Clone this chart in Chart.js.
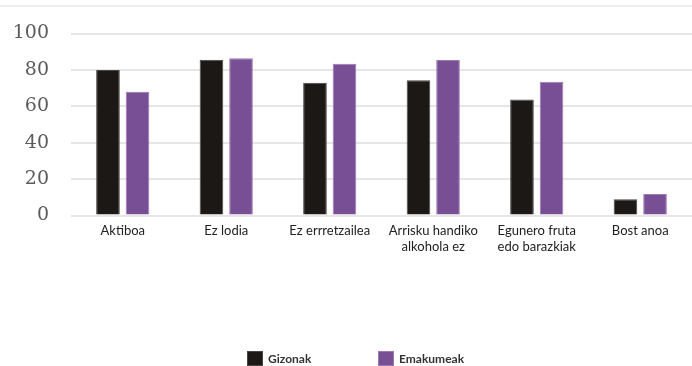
<!DOCTYPE html>
<html>
<head>
<meta charset="utf-8">
<script src="https://cdn.jsdelivr.net/npm/chart.js@4/dist/chart.umd.min.js"></script>
<style>
    html, body { margin: 0; padding: 0; background: #fff; }
    #wrap { position: relative; width: 692px; height: 366px; overflow: hidden; }
    #topline { position: absolute; left: 0; top: 5px; width: 692px; height: 0; border-top: 2px solid #eeeeee; }
    #chart { position: absolute; left: 0; top: 0; }
    #legend { position: absolute; left: 0; top: 351px; width: 692px; height: 15px; font: bold 12px Lato, sans-serif; color: #333; }
    #legend .item { position: absolute; top: 0; white-space: nowrap; line-height: 15px; }
    #legend .box { display: inline-block; width: 16px; height: 15px; vertical-align: top; margin-right: 5px; box-sizing: border-box; }
</style>
</head>
<body>
<div id="wrap">
    <div id="topline"></div>
    <canvas id="chart" width="692" height="366"></canvas>
    <div id="legend"></div>
</div>
<script>
    // Categories (two-line labels where the text wraps)
    const categories = [
        'Aktiboa',
        'Ez lodia',
        'Ez errretzailea',
        ['Arrisku handiko', 'alkohola ez'],
        ['Egunero fruta', 'edo barazkiak'],
        'Bost anoa'
    ];

    // Percentages per group
    const gizonak = [80, 85.6, 73, 74.3, 63.8, 8.9];
    const emakumeak = [68, 86.4, 83.4, 85.4, 73.5, 11.8];

    const yTicks = [0, 20, 40, 60, 80, 100];

    const seriesNames = ['Gizonak', 'Emakumeak'];
    const seriesColors = ['#1c1815', '#784f95'];
    const seriesBorders = ['#4a4542', '#9b7ab2'];

    // Legend item left offsets (px)
    const legendLeft = [247, 378];

    const chart = new Chart(document.getElementById('chart'), {
        type: 'bar',
        data: {
            labels: categories,
            datasets: [
                {
                    label: seriesNames[0],
                    data: gizonak,
                    backgroundColor: seriesColors[0],
                    borderColor: seriesBorders[0],
                    borderWidth: 1
                },
                {
                    label: seriesNames[1],
                    data: emakumeak,
                    backgroundColor: seriesColors[1],
                    borderColor: seriesBorders[1],
                    borderWidth: 1
                }
            ]
        },
        options: {
            responsive: false,
            animation: false,
            events: [],
            layout: {
                padding: { top: 33.5, right: 0, bottom: 0, left: 0 }
            },
            datasets: {
                bar: {
                    categoryPercentage: 0.571,
                    barPercentage: 0.8
                }
            },
            scales: {
                x: {
                    border: { display: false },
                    grid: { display: false, drawTicks: false },
                    ticks: {
                        padding: 7,
                        color: '#222',
                        maxRotation: 0,
                        autoSkip: false,
                        font: { family: 'Lato', size: 13, lineHeight: 1.23 }
                    },
                    afterFit: function(scale) {
                        scale.height = 150.5;
                    }
                },
                y: {
                    min: 0,
                    max: 100,
                    border: { display: false },
                    grid: { color: '#e6e6e6', lineWidth: 2, drawTicks: false },
                    afterBuildTicks: function(scale) {
                        scale.ticks = yTicks.map(v => ({ value: v }));
                    },
                    ticks: {
                        padding: 22,
                        color: '#5b5b5b',
                        font: { family: 'DejaVu Serif', size: 19 }
                    },
                    afterFit: function(scale) {
                        scale.width = 71;
                    }
                }
            },
            plugins: {
                legend: { display: false },
                tooltip: { enabled: false }
            }
        }
    });

    // Legend built from the chart's datasets
    const legendEl = document.getElementById('legend');
    chart.data.datasets.forEach(function(ds, i) {
        const item = document.createElement('div');
        item.className = 'item';
        item.style.left = legendLeft[i] + 'px';
        item.innerHTML = '<span class="box" style="background:' + ds.backgroundColor +
            ';border:1px solid ' + ds.borderColor + '"></span>' + ds.label;
        legendEl.appendChild(item);
    });
</script>
</body>
</html>
